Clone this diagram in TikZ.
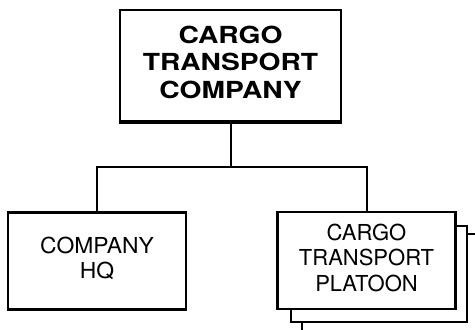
\documentclass[tikz,border=0pt]{standalone}
\usepackage{fontspec}
\usepackage{graphicx}
\setmainfont{TeX Gyre Heros}
\newcommand\myxs[2]{\scalebox{#1}[1]{\begin{tabular}{@{}c@{}}#2\end{tabular}}}
\begin{document}
\begin{tikzpicture}[x=1pt,y=1pt,
  box/.style={draw=black,line width=2.3pt,fill=white,inner sep=0pt,align=center},
  bigbox/.style={box,minimum width=221pt,minimum height=111pt,
    font=\bfseries\fontsize{23.5}{27.5}\selectfont},
  unitbox/.style={box,minimum width=178pt,minimum height=97pt,
    font=\fontsize{22}{25.5}\selectfont},
  link/.style={draw=black,line width=2pt}]
\useasboundingbox[fill=white] (0,0) rectangle (475,330);
% top
\node[bigbox] (top) at (230.5,264.5) {\myxs{1.2}{CARGO\\TRANSPORT\\COMPANY}};
\draw[line width=3.2pt] ([yshift=-0.5pt]top.south west) -- ([yshift=-0.5pt]top.south east);
% left
\node[unitbox] (hq) at (97,69) {\myxs{1.04}{COMPANY\\HQ}};
% right, with stacked box behind
\node[unitbox,minimum width=176pt,minimum height=96pt] (back) at (379,56) {};
\node[unitbox] (plt) at (366.5,69.5) {\myxs{1.0}{CARGO\\TRANSPORT\\PLATOON}};
% connectors
\coordinate (j) at (230.5,163);
\draw[link] (top.south) -- (j);
\draw[link] (hq.north) |- (j) -| (plt.north);
\coordinate (stubR) at (475,96);
\coordinate (stubB) at (302,0);
\draw[link] (back.east |- stubR) -- (stubR);
\draw[link] (back.south -| stubB) -- (stubB);
\end{tikzpicture}
\end{document}
